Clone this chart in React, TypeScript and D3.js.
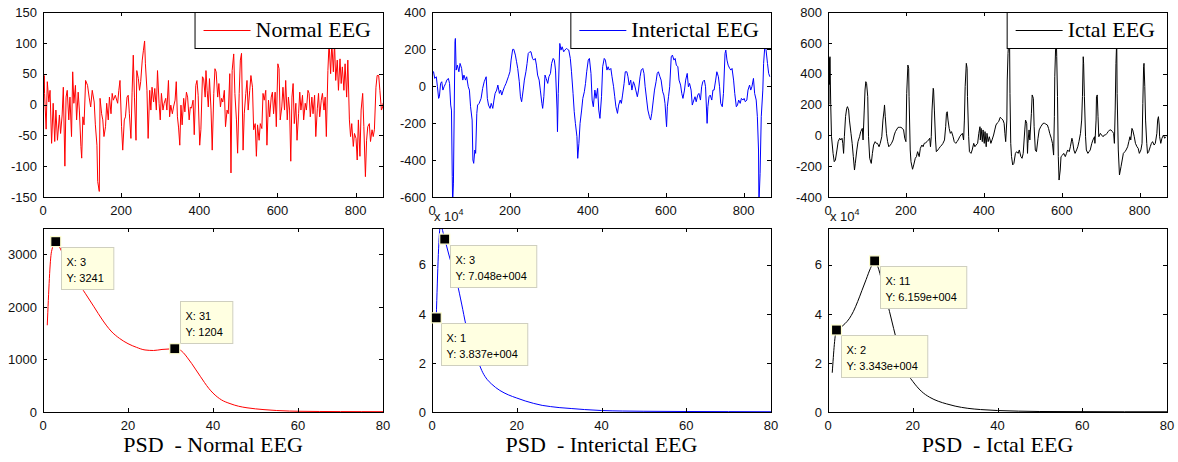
import React from 'react';
import * as d3 from 'd3';

const W = 1178;
const H = 462;

// EEG traces, [sample, amplitude]
const normalEeg: [number, number][] = [
  [0, 50], [1, 15], [3, 47], [4, 18], [8, -40], [11, 37], [15, 4], [18, 23], [22, -63], [26, 2], [30, -60], [33, -9],
  [37, -58], [42, -17], [45, -47], [49, -17], [52, 28], [56, -100], [59, 12], [62, 23], [66, -25], [69, 12], [73, -52],
  [76, 53], [79, 2], [83, 31], [86, -25], [90, 20], [93, -9], [97, -68], [99, -87], [102, -20], [105, -33], [109, 39],
  [114, 31], [118, 12], [122, -4], [126, 23], [131, 4], [134, -33], [138, -66], [140, -125], [144, -141], [146, 10],
  [150, -15], [153, -25], [156, -52], [160, -36], [163, 2], [167, -25], [170, 12], [174, -15], [177, 18], [180, 7],
  [185, 15], [191, 2], [194, 23], [197, 39], [201, -36], [204, -74], [208, -25], [211, -20], [215, 12], [218, 15],
  [221, -15], [225, -55], [228, 20], [231, 80], [234, 12], [238, -58], [240, 55], [244, 42], [247, 23], [250, 37],
  [254, 72], [257, 88], [260, 103], [262, 66], [266, 23], [269, -55], [273, 23], [276, -9], [279, 28], [283, 4],
  [286, 26], [290, -9], [293, 55], [297, 2], [300, -25], [303, 18], [307, -9], [310, 2], [314, 10], [317, -9],
  [321, 39], [324, -20], [327, -1], [331, -15], [334, -4], [338, 7], [341, 37], [344, -20], [347, -38], [350, -66],
  [353, -1], [356, -33], [360, 10], [363, -12], [367, 20], [370, 12], [374, -25], [377, -4], [380, -6], [384, 7],
  [387, -49], [391, 31], [394, 39], [397, 15], [401, -66], [404, -41], [408, 45], [411, 42], [415, 12], [417, 55],
  [420, 23], [423, -4], [426, 42], [430, -9], [433, -74], [437, 18], [440, 58], [443, 53], [447, 12], [450, 34],
  [454, -4], [457, 10], [460, 4], [464, 23], [467, -36], [471, -9], [474, -15], [478, 50], [481, -111], [484, 55],
  [488, 82], [491, 18], [495, -25], [498, -79], [502, 18], [505, 72], [508, 83], [512, -74], [515, -15], [519, 18],
  [522, 39], [525, -9], [529, 23], [532, 47], [536, 28], [539, -41], [543, -31], [546, -84], [549, -33], [553, -58],
  [556, -31], [560, -39], [563, 18], [566, 7], [570, 23], [573, -66], [577, 7], [580, -20], [584, 12], [587, 20],
  [590, -15], [594, 20], [597, -36], [601, 66], [604, 58], [607, -25], [611, -4], [614, 28], [618, -9], [621, 39],
  [625, -25], [628, 12], [631, -9], [634, -92], [637, 12], [640, 34], [643, -31], [647, 2], [650, -58], [654, -15],
  [657, 20], [660, -9], [664, 15], [667, -25], [671, 2], [674, -9], [678, 23], [681, 18], [684, -20], [688, 12],
  [691, -15], [695, 15], [698, -52], [702, -6], [705, 18], [708, -20], [712, 7], [715, 18], [719, -9], [722, 12],
  [725, -52], [729, 55], [732, 100], [736, 50], [739, 100], [743, 53], [746, 100], [749, 39], [753, 72], [756, 23],
  [760, 74], [763, 34], [766, 61], [770, 23], [773, 66], [777, 12], [780, 72], [784, -25], [787, -52], [790, -31],
  [794, -68], [797, -47], [801, -55], [804, -90], [807, -25], [811, -84], [814, -9], [818, 18], [821, -36], [825, -117],
  [828, -58], [831, -36], [835, -31], [838, -60], [842, -41], [845, -52], [848, -41], [852, 28], [855, 47], [859, 47],
  [862, 23], [866, -9], [869, -4], [870, 2],
];

const interictalEeg: [number, number][] = [
  [0, 80], [4, 77], [7, 41], [11, 50], [14, -4], [17, -67], [19, -58], [22, 14], [25, 23], [28, -22], [31, -4], [35, 14],
  [38, 32], [42, 41], [45, 14], [48, -103], [50, -130], [52, -490], [53, -640], [55, -525], [57, -130], [59, 239],
  [60, 257], [62, 86], [65, 113], [69, 77], [72, 122], [76, 95], [79, 32], [82, 59], [86, 32], [89, 50], [93, -4],
  [96, -22], [99, -112], [103, -184], [105, -400], [107, -418], [110, -346], [112, -364], [115, -148], [117, -103],
  [121, -94], [126, -67], [130, -13], [134, 23], [139, 50], [142, -67], [145, -103], [149, -121], [152, -94], [156, -121],
  [159, -76], [162, -40], [166, -22], [169, 5], [173, -40], [176, -22], [179, -49], [183, -22], [186, -4], [190, 14],
  [193, 32], [196, 50], [200, 77], [203, 140], [207, 198], [210, 198], [214, 167], [217, 131], [220, 95], [224, 23],
  [227, -58], [230, -85], [234, -22], [237, 32], [241, 77], [244, 122], [247, 176], [251, 185], [254, 185], [258, 149],
  [261, 140], [265, 149], [268, 113], [271, 59], [275, 32], [278, -22], [282, -94], [284, -121], [287, -58], [290, 59],
  [293, 41], [297, 14], [300, 50], [304, 68], [307, 122], [311, 149], [314, 140], [317, 86], [321, -130], [322, -247],
  [324, -40], [328, 230], [331, 194], [334, 212], [338, 185], [341, 194], [345, 203], [348, 198], [351, 194], [355, 149],
  [358, 77], [362, -40], [365, -139], [368, -202], [372, -274], [374, -391], [377, -310], [380, -202], [384, -130],
  [387, -67], [391, -31], [394, 14], [397, 77], [401, 140], [404, 149], [408, 68], [411, -76], [414, -112], [418, -22],
  [421, -67], [425, -13], [428, -130], [431, -175], [435, -58], [438, 104], [442, 149], [445, 140], [449, 86], [452, 104],
  [455, 86], [459, 95], [462, 50], [466, -4], [469, -58], [472, -112], [476, -148], [479, -103], [483, -76], [486, -94],
  [489, -49], [493, 14], [496, 77], [500, 77], [503, 50], [506, 5], [510, 32], [513, -22], [517, 23], [520, 5], [523, -22],
  [527, -58], [530, -22], [534, 50], [537, 86], [541, 95], [544, 68], [547, -4], [551, -76], [554, -130], [558, -166],
  [561, -184], [564, -148], [568, -76], [571, -22], [575, 23], [578, 68], [581, 77], [585, 50], [588, 32], [592, -31],
  [595, -49], [598, -94], [602, -220], [604, -112], [607, -58], [610, -4], [614, 158], [617, 167], [621, 140], [624, 149],
  [627, 113], [631, 104], [634, 32], [638, 5], [641, -40], [644, -67], [648, -22], [651, 32], [655, 68], [658, -4],
  [661, 14], [665, -22], [668, -103], [672, -76], [675, -58], [678, -85], [682, -49], [685, -40], [689, -76], [692, -4],
  [695, 23], [699, 32], [702, -4], [706, -202], [708, -112], [711, -58], [714, -49], [718, -76], [721, -22], [724, -22],
  [728, 32], [731, 77], [735, 50], [738, -4], [741, -94], [745, -112], [748, -40], [752, 176], [754, 194], [757, 140],
  [760, 113], [764, 95], [767, 86], [770, 95], [774, 32], [777, -40], [781, -112], [784, -103], [787, -76], [791, -94],
  [794, -67], [798, -76], [801, -67], [804, -85], [808, -76], [811, -22], [815, 5], [818, -22], [821, -4], [825, 41],
  [828, -40], [832, -76], [835, -166], [838, -346], [839, -640], [842, -472], [845, -166], [849, -22], [851, 122],
  [854, 212], [856, 220], [861, 122], [864, 68], [867, 50],
];

const ictalEeg: [number, number][] = [
  [0, 60], [1, 480], [2, 200], [3, 500], [4, 330], [5, 510], [7, 200], [9, -9], [13, -117], [16, -171], [19, -160],
  [23, -95], [26, -41], [30, -19], [33, -30], [36, -19], [38, -52], [40, -117], [42, -9], [45, 121], [48, 175], [50, 186],
  [53, 164], [55, 99], [59, 13], [62, -52], [65, -138], [68, -225], [70, -182], [74, -95], [77, -41], [81, -9], [84, 24],
  [88, 45], [90, -30], [93, 164], [95, 294], [97, 348], [99, 337], [102, 251], [104, -9], [107, -149], [111, -182],
  [114, -117], [117, -63], [121, -41], [124, -52], [127, -52], [131, -74], [134, -52], [138, -9], [141, 99], [144, 164],
  [145, 197], [147, 121], [150, 13], [153, -41], [156, -74], [160, -63], [163, -52], [167, -30], [170, 2], [173, 24],
  [177, 41], [180, 52], [184, 52], [187, 52], [191, 45], [194, 35], [197, -19], [200, -41], [202, 272], [205, 456],
  [207, 435], [208, 251], [211, -95], [213, -171], [217, -220], [220, -192], [224, -149], [227, -138], [230, -106],
  [234, -138], [237, -84], [241, -63], [244, -74], [247, -52], [251, -48], [254, -41], [258, -30], [261, -19], [263, -74],
  [265, -9], [267, 164], [270, 305], [271, 294], [273, 164], [276, -30], [278, -106], [282, -95], [285, -84], [288, -74],
  [292, -63], [295, -52], [299, -30], [302, 56], [304, 143], [306, 153], [308, 99], [311, 45], [314, 13], [317, 24],
  [321, -9], [324, -41], [328, -52], [331, -41], [334, -30], [338, -9], [341, 2], [345, 13], [348, -30], [350, 99],
  [352, 316], [355, 467], [357, 435], [358, 251], [361, -9], [363, -106], [367, -117], [370, -95], [374, -52], [377, -74],
  [380, -63], [384, -52], [387, 13], [390, 56], [391, -30], [393, 45], [396, -41], [398, 35], [401, -52], [403, 24],
  [406, -74], [408, 13], [411, -41], [414, -9], [418, -52], [421, -30], [425, 2], [428, 35], [431, 67], [435, 82],
  [438, 89], [442, 117], [445, 110], [449, 99], [452, 78], [454, 13], [456, -41], [459, 99], [460, 359], [462, 532],
  [464, 618], [466, 597], [467, 272], [469, -52], [471, -138], [474, -192], [477, -182], [481, -117], [484, -106],
  [488, -117], [491, -95], [495, -138], [498, -149], [501, -117], [505, 35], [507, 99], [510, 78], [512, -117], [513, -52],
  [516, 35], [518, -30], [522, 143], [524, 262], [527, 240], [529, 56], [532, -95], [535, -106], [539, -19], [542, 35],
  [546, 56], [549, 67], [552, 78], [556, 78], [559, 73], [563, 67], [566, 45], [569, 13], [573, -19], [576, -52],
  [579, -128], [581, 121], [582, 380], [584, 554], [586, 620], [587, 510], [589, 251], [591, -138], [593, -290],
  [596, -225], [598, -138], [602, -128], [605, -117], [609, -138], [612, -117], [615, -95], [619, -106], [622, -74],
  [626, -19], [628, -41], [631, -95], [634, -117], [638, -95], [641, -74], [644, -41], [648, 13], [651, 99], [653, 251],
  [655, 510], [656, 467], [658, 251], [661, -9], [663, -95], [667, -117], [670, -106], [673, -95], [677, -52], [680, -30],
  [684, -9], [685, -52], [688, 99], [689, 251], [691, 262], [693, 121], [695, -9], [699, 13], [702, 2], [706, -9],
  [709, 2], [712, 2], [716, 13], [719, 24], [723, 35], [726, 35], [730, 24], [733, 13], [735, -52], [737, 164],
  [739, 467], [741, 620], [742, 272], [745, -95], [748, -257], [752, -203], [755, -160], [758, -117], [762, -106],
  [765, -95], [769, -74], [772, -41], [775, -9], [777, -30], [780, 45], [782, 35], [786, -9], [789, -52], [793, -74],
  [796, -84], [799, -117], [803, -95], [806, -52], [808, 207], [810, 445], [811, 467], [813, 316], [815, 99], [818, -52],
  [820, -117], [823, -106], [827, -74], [830, -52], [833, -41], [837, -63], [840, -52], [844, 13], [846, 99], [848, 121],
  [850, 67], [851, -9], [854, -52], [857, -19], [861, 2], [864, -19], [867, -9],
];

// power spectral densities
const normalPsdFreq = [1, 2, 3, 4, 5, 6, 7, 8, 10, 12, 14, 16, 18, 20, 22, 24, 26, 28, 30, 31, 32, 33, 34, 35, 36, 37, 38, 39, 40, 42, 44, 46, 48, 50, 52, 55, 58, 60, 65, 70, 75, 80];
const normalPsd = [1650, 3050, 3241, 3120, 2950, 2800, 2650, 2500, 2250, 2000, 1750, 1540, 1400, 1300, 1230, 1180, 1170, 1190, 1200, 1204, 1190, 1130, 1030, 920, 800, 680, 560, 450, 360, 230, 160, 110, 80, 60, 45, 28, 18, 14, 10, 8, 7, 6];

const interictalPsdFreq = [1, 2, 3, 4, 5, 6, 7, 8, 9, 10, 11, 12, 13, 14, 15, 16, 18, 20, 22, 24, 26, 28, 30, 33, 36, 40, 45, 50, 60, 70, 80];
const interictalPsd = [38370, 76000, 70480, 64000, 58000, 52000, 44000, 35500, 29000, 24000, 20000, 16000, 13300, 11500, 10000, 8800, 7000, 5700, 4500, 3500, 2700, 2200, 1800, 1400, 1000, 600, 400, 300, 200, 150, 100];

const ictalPsdFreq = [1, 2, 3, 4, 5, 6, 7, 8, 9, 10, 11, 12, 13, 14, 15, 16, 17, 18, 19, 20, 22, 24, 26, 28, 30, 33, 36, 40, 45, 50, 60, 70, 80];
const ictalPsd = [16000, 33430, 34500, 36000, 38000, 41000, 45000, 49500, 54000, 58500, 61590, 58000, 51000, 44500, 37500, 30500, 24000, 19000, 15000, 12500, 8500, 6000, 4400, 3300, 2400, 1500, 1000, 600, 350, 200, 150, 100, 100];

const eegXTicks = [0, 200, 400, 600, 800];
const normalYTicks = [-150, -100, -50, 0, 50, 100, 150];
const interictalYTicks = [-600, -400, -200, 0, 200, 400];
const ictalYTicks = [-400, -200, 0, 200, 400, 600, 800];
const psdXTicks = [0, 20, 40, 60, 80];
const normalPsdYTicks = [0, 1000, 2000, 3000];
const scaledPsdYTicks = [0, 20000, 40000, 60000];

const normalTips = [{ x: 3, y: 3241 }, { x: 31, y: 1204, above: true }];
const interictalTips = [{ x: 3, y: 70480 }, { x: 1, y: 38370 }];
const ictalTips = [{ x: 11, y: 61590 }, { x: 2, y: 33430 }];

const SANS = '"Liberation Sans", Arial, sans-serif';
const SERIF = '"Liberation Serif", "Times New Roman", serif';

const ctx = document.createElement('canvas').getContext('2d');
function textWidth(s: string, font: string) {
  if (!ctx) return s.length * 7;
  ctx.font = font;
  return ctx.measureText(s).width;
}

// matlab style datatip numbers: 7.048e+004
function tipNum(v: number) {
  if (Math.abs(v) < 1e4) return String(v);
  const [m, e] = v.toExponential(3).split('e');
  const sign = e[0];
  return `${m}e${sign}${e.slice(1).padStart(3, '0')}`;
}

type Tip = { x: number; y: number; above?: boolean };

interface PanelProps {
  id: string;
  left: number;
  top: number;
  width: number;
  height: number;
  points: [number, number][];
  xMax: number;
  yDomain: [number, number];
  xTicks: number[];
  yTicks: number[];
  scale?: number;
  color: string;
  smooth?: boolean;
  legend?: string;
  title?: string;
  tips?: Tip[];
}

function Panel(p: PanelProps) {
  const right = p.left + p.width;
  const bottom = p.top + p.height;
  const x = d3.scaleLinear().domain([0, p.xMax]).range([p.left, right]);
  const y = d3.scaleLinear().domain(p.yDomain).range([bottom, p.top]);
  const line = d3.line<[number, number]>()
    .x(d => x(d[0]))
    .y(d => y(d[1]))
    .curve(p.smooth ? d3.curveMonotoneX : d3.curveLinear);
  const tl = 4;
  const scale = p.scale || 1;

  const legendFont = `22px ${SERIF}`;
  const legendW = p.legend ? textWidth(p.legend, legendFont) + 73 : 0;
  const lx = right - legendW;

  return (
    <g>
      <defs>
        <clipPath id={p.id}>
          <rect x={p.left} y={p.top} width={p.width} height={p.height} />
        </clipPath>
      </defs>
      <path d={line(p.points) || ''} fill="none" stroke={p.color} strokeWidth={1} clipPath={`url(#${p.id})`} />

      <rect x={p.left + 0.5} y={p.top + 0.5} width={p.width} height={p.height} fill="none" stroke="#000" strokeWidth={1} />
      {p.xTicks.map(t => (
        <g key={'x' + t}>
          <line x1={Math.round(x(t)) + 0.5} x2={Math.round(x(t)) + 0.5} y1={bottom} y2={bottom - tl} stroke="#000" />
          <line x1={Math.round(x(t)) + 0.5} x2={Math.round(x(t)) + 0.5} y1={p.top} y2={p.top + tl} stroke="#000" />
          <text x={x(t)} y={bottom + 18} textAnchor="middle" fontFamily={SANS} fontSize={13} fill="#111">{t}</text>
        </g>
      ))}
      {p.yTicks.map(t => (
        <g key={'y' + t}>
          <line x1={p.left} x2={p.left + tl} y1={Math.round(y(t)) + 0.5} y2={Math.round(y(t)) + 0.5} stroke="#000" />
          <line x1={right} x2={right - tl} y1={Math.round(y(t)) + 0.5} y2={Math.round(y(t)) + 0.5} stroke="#000" />
          <text x={p.left - 6} y={y(t)} dy="0.36em" textAnchor="end" fontFamily={SANS} fontSize={13} fill="#111">{t / scale}</text>
        </g>
      ))}
      {scale !== 1 && (
        <text x={p.left + 2} y={p.top - 7} fontFamily={SANS} fontSize={13} fill="#111">
          x 10<tspan dy={-6} fontSize={9}>{Math.round(Math.log10(scale))}</tspan>
        </text>
      )}

      {(p.tips || []).map((t, i) => {
        const mx = x(t.x);
        const my = y(t.y);
        const l1 = `X: ${t.x}`;
        const l2 = `Y: ${tipNum(t.y)}`;
        const bw = Math.max(textWidth(l1, `11px ${SANS}`), textWidth(l2, `11px ${SANS}`)) + 15;
        const bh = 42;
        const bx = Math.round(mx + 5) + 0.5;
        const by = Math.round(t.above ? my - 6 - bh : my + 5.5) + 0.5;
        return (
          <g key={'tip' + i}>
            <rect x={bx} y={by} width={bw} height={bh} fill="#ffffe1" stroke="#cfcfbf" />
            <text x={bx + 5} y={by + 18} fontFamily={SANS} fontSize={11} fill="#000">{l1}</text>
            <text x={bx + 5} y={by + 34} fontFamily={SANS} fontSize={11} fill="#000">{l2}</text>
            <rect x={mx - 5} y={my - 5} width={10} height={10} fill="#000" stroke="#ffffd0" strokeWidth={1.2} />
          </g>
        );
      })}

      {p.legend && (
        <g>
          <rect x={lx + 0.5} y={p.top + 0.5} width={legendW} height={36} fill="#fff" stroke="#000" />
          <line x1={lx + 9} x2={lx + 56} y1={p.top + 18.5} y2={p.top + 18.5} stroke={p.color} strokeWidth={1} />
          <text x={lx + 61} y={p.top + 25} fontFamily={SERIF} fontSize={22} fill="#000">{p.legend}</text>
        </g>
      )}
      {p.title && (
        <text x={(p.left + right) / 2} y={bottom + 40} textAnchor="middle" fontFamily={SERIF} fontSize={22}
          fill="#000" style={{ whiteSpace: 'pre' }}>{p.title}</text>
      )}
    </g>
  );
}

const zip = (xs: number[], ys: number[]) => xs.map((v, i) => [v, ys[i]] as [number, number]);

const cols = [
  { left: 43, width: 340 },
  { left: 432, width: 339 },
  { left: 828, width: 339 },
];
const topRow = { top: 12, height: 185 };
const bottomRow = { top: 228, height: 184 };

export default function App() {
  return (
    <svg width={W} height={H} style={{ position: 'absolute', left: 0, top: 0, background: '#fff' }}>
      <Panel id="c1" {...cols[0]} {...topRow} points={normalEeg} xMax={870} yDomain={[-150, 150]}
        xTicks={eegXTicks} yTicks={normalYTicks} color="#ff0000" legend="Normal EEG" />
      <Panel id="c2" {...cols[1]} {...topRow} points={interictalEeg} xMax={870} yDomain={[-600, 400]}
        xTicks={eegXTicks} yTicks={interictalYTicks} color="#0000ff" legend="Interictal EEG" />
      <Panel id="c3" {...cols[2]} {...topRow} points={ictalEeg} xMax={870} yDomain={[-400, 800]}
        xTicks={eegXTicks} yTicks={ictalYTicks} color="#000000" legend="Ictal EEG" />

      <Panel id="c4" {...cols[0]} {...bottomRow} points={zip(normalPsdFreq, normalPsd)} xMax={80} yDomain={[0, 3500]}
        xTicks={psdXTicks} yTicks={normalPsdYTicks} color="#ff0000" smooth title="PSD  - Normal EEG" tips={normalTips} />
      <Panel id="c5" {...cols[1]} {...bottomRow} points={zip(interictalPsdFreq, interictalPsd)} xMax={80} yDomain={[0, 75000]}
        xTicks={psdXTicks} yTicks={scaledPsdYTicks} scale={10000} color="#0000ff" smooth title="PSD  - Interictal EEG" tips={interictalTips} />
      <Panel id="c6" {...cols[2]} {...bottomRow} points={zip(ictalPsdFreq, ictalPsd)} xMax={80} yDomain={[0, 75000]}
        xTicks={psdXTicks} yTicks={scaledPsdYTicks} scale={10000} color="#000000" smooth title="PSD  - Ictal EEG" tips={ictalTips} />
    </svg>
  );
}
